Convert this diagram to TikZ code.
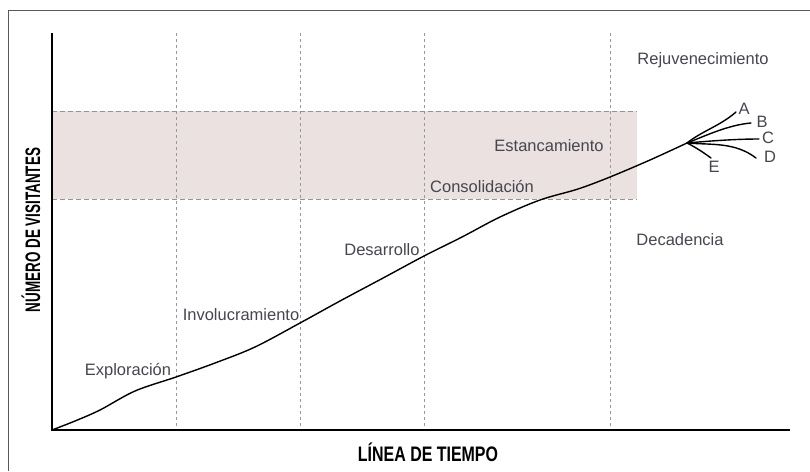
\documentclass[tikz,border=0pt]{standalone}
\usepackage{fontspec}
\setmainfont{Liberation Sans}
\newfontfamily\headfont{Liberation Sans}
\newcommand{\condtext}[2]{\scalebox{#1}[1]{#2}}
\begin{document}
\begin{tikzpicture}[x=1pt,y=-1pt,
  stagelabel/.style={text=labelgray,font=\fontsize{16.5}{17}\selectfont,inner sep=0pt},
  axislabel/.style={text=black,font=\headfont\bfseries\fontsize{21}{22}\selectfont,inner sep=0pt},
  guide/.style={draw=gray!80,line width=0.9pt,dash pattern=on 3pt off 3pt},
  bandedge/.style={draw=gray!85,line width=0.8pt,dash pattern=on 5pt off 3pt},
  axis/.style={draw=black,line width=1.8pt},
  curve/.style={draw=black,line width=1.4pt,line cap=round,line join=round}]
\definecolor{labelgray}{HTML}{45464F}
\definecolor{bandfill}{HTML}{EAE1E0}
\useasboundingbox (0,0) rectangle (810,471);
% frame
\draw[gray!70!black,line width=0.8pt] (8,471) -- (8,10) -- (810,10);
% band
\fill[bandfill] (52,111) rectangle (637,199);
\draw[bandedge] (52,111) -- (637,111);
\draw[bandedge] (52,199) -- (637,199);
% guides
\foreach \gx in {176,300,424,610}{\draw[guide] (\gx,33) -- (\gx,430);}
% axes
\coordinate (o) at (52,430);
\coordinate (ytop) at (52,33);
\coordinate (xend) at (790,430);
\draw[axis] (ytop) -- (o) -- (xend);
% curve
\coordinate (j) at (687,143);
\draw[curve] plot[smooth,tension=0.55] coordinates {(52,430) (75,421) (100,410) (135,391) (176,377) (215,363) (255,347) (300,323) (340,301) (385,277) (424,256) (462,237) (500,217) (540,200) (578,189) (610,177) (650,160) (687,143)};
% branches
\coordinate (a) at (736,112);
\coordinate (b) at (751,123);
\coordinate (c) at (759,139);
\coordinate (d) at (756,158);
\coordinate (e) at (711,158);
\draw[curve] (j) .. controls (702,131) and (720,126) .. (a);
\draw[curve] (j) .. controls (705,136) and (728,125) .. (b);
\draw[curve] (j) .. controls (710,141) and (735,139) .. (c);
\draw[curve] (j) .. controls (712,145) and (735,142) .. (d);
\draw[curve] (j) .. controls (697,148) and (704,153) .. (e);
\node[stagelabel] (la) at (744,109) {A};
\node[stagelabel] (lb) at (762,122) {B};
\node[stagelabel] (lc) at (768,138) {C};
\node[stagelabel] (ld) at (770,157) {D};
\node[stagelabel] (le) at (714,167) {E};
% stage labels
\node[stagelabel] (expl) at (128,371) {Exploración};
\node[stagelabel] (invo) at (241,315) {Involucramiento};
\node[stagelabel] (desa) at (382,250) {Desarrollo};
\node[stagelabel] (cons) at (482,187) {Consolidación};
\node[stagelabel] (esta) at (549,146) {Estancamiento};
\node[stagelabel] (reju) at (703,60) {Rejuvenecimiento};
\node[stagelabel] (deca) at (680,240) {Decadencia};
% axis labels
\node[axislabel] (xl) at (428,452) {\condtext{0.76}{LÍNEA DE TIEMPO}};
\node[axislabel,rotate=90] (yl) at (31,230) {\condtext{0.64}{NÚMERO DE VISITANTES}};
\end{tikzpicture}
\end{document}
